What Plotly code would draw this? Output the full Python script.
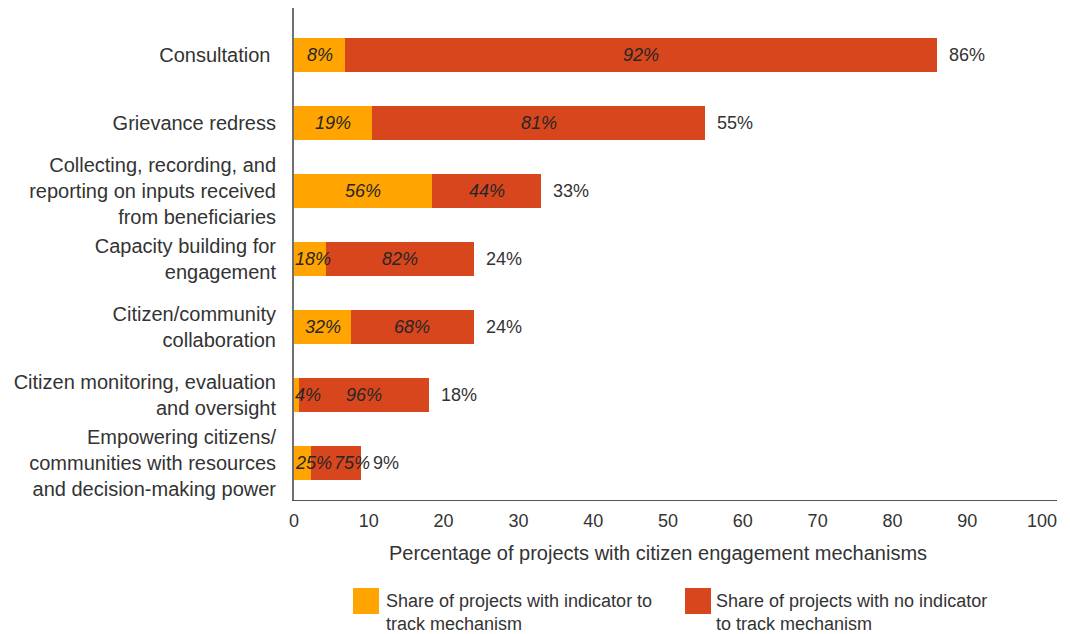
import plotly.graph_objects as go

# Citizen engagement mechanisms: share of projects and indicator coverage
categories = [
    "Consultation ",
    "Grievance redress",
    "Collecting, recording, and<br>reporting on inputs received<br>from beneficiaries",
    "Capacity building for<br>engagement",
    "Citizen/community<br>collaboration",
    "Citizen monitoring, evaluation<br>and oversight",
    "Empowering citizens/<br>communities with resources<br>and decision-making power",
]
totals = [86, 55, 33, 24, 24, 18, 9]              # % of projects with the mechanism
share_with_indicator = [8, 19, 56, 18, 32, 4, 25]  # % of those with a tracking indicator
share_no_indicator = [92, 81, 44, 82, 68, 96, 75]  # % of those without one
x_ticks = [0, 10, 20, 30, 40, 50, 60, 70, 80, 90, 100]

legend_labels = [
    "Share of projects with indicator to<br>track mechanism",
    "Share of projects with no indicator<br>to track mechanism",
]

ORANGE = "#FFA400"
RED = "#D8461D"
TEXT = "#333333"
LABEL = "#262626"
FONT = "Liberation Sans, Arial, sans-serif"
SEG_FONT = dict(family=FONT, size=18, color=LABEL, style="italic")

# Segment lengths: each total split by indicator share
seg_with = [t * s / 100 for t, s in zip(totals, share_with_indicator)]
seg_without = [t * s / 100 for t, s in zip(totals, share_no_indicator)]

fig = go.Figure()
fig.add_trace(go.Bar(
    y=categories, x=seg_with, orientation="h", marker=dict(color=ORANGE, line_width=0),
    name=legend_labels[0], hoverinfo="skip",
))
fig.add_trace(go.Bar(
    y=categories, x=seg_without, orientation="h", marker=dict(color=RED, line_width=0),
    name=legend_labels[1], hoverinfo="skip",
))

# Segment labels: centred in the segment, or pushed aside when the segment is narrow
for cat, s_w, s_n, p_w, p_n in zip(categories, seg_with, seg_without,
                                   share_with_indicator, share_no_indicator):
    narrow_w = s_w < 5
    fig.add_annotation(
        x=0 if narrow_w else s_w / 2, y=cat, xref="x", yref="y", text=f"{p_w}%",
        showarrow=False, xanchor="left" if narrow_w else "center", yanchor="middle",
        xshift=-1 if narrow_w else 0, font=SEG_FONT,
    )
    narrow_n = s_n < 8
    fig.add_annotation(
        x=s_w if narrow_n else s_w + s_n / 2, y=cat, xref="x", yref="y", text=f"{p_n}%",
        showarrow=False, xanchor="left" if narrow_n else "center", yanchor="middle",
        xshift=21 if narrow_n else 0, font=SEG_FONT,
    )

# Total labels at the end of each bar
for cat, tot in zip(categories, totals):
    fig.add_annotation(
        x=tot, y=cat, xref="x", yref="y", text=f"{tot}%",
        showarrow=False, xanchor="left", yanchor="middle", xshift=10,
        font=dict(family=FONT, size=18, color=TEXT),
    )

W, H = 1070, 634
L, R, T, B = 294, 13, 8, 134
PW, PH = W - L - R, H - T - B


def px(x):
    return (x - L) / PW


def py(y):
    return (H - B - y) / PH


# Axis title, placed under the tick labels
fig.add_annotation(
    x=px(658), y=py(553), xref="paper", yref="paper",
    text="Percentage of projects with citizen engagement mechanisms",
    showarrow=False, xanchor="center", yanchor="middle",
    font=dict(family=FONT, size=20, color=TEXT),
)

# Custom legend with large square swatches
for (sx, tx), color, label in zip([(353, 384), (685, 714)], [ORANGE, RED], legend_labels):
    fig.add_shape(
        type="rect", xref="paper", yref="paper",
        x0=px(sx), x1=px(sx + 26), y0=py(614), y1=py(588),
        fillcolor=color, line_width=0,
    )
    fig.add_annotation(
        x=px(tx), y=py(612), xref="paper", yref="paper", text=label,
        showarrow=False, xanchor="left", yanchor="middle", align="left",
        font=dict(family=FONT, size=18, color=TEXT),
    )

fig.update_layout(
    width=W, height=H,
    margin=dict(l=L, r=R, t=T, b=B, pad=0),
    barmode="stack", bargap=0.5,
    showlegend=False,
    plot_bgcolor="white", paper_bgcolor="white",
    font=dict(family=FONT, size=18, color=TEXT),
)
fig.update_xaxes(
    range=[0, 102], tickvals=x_ticks, showgrid=False, zeroline=False,
    showline=True, linecolor="#555555", linewidth=1, ticks="",
    ticklabelstandoff=4,
    tickfont=dict(family=FONT, size=18, color=TEXT),
)
fig.update_yaxes(
    type="category", range=[6.549, -0.687], showgrid=False, zeroline=False,
    showline=True, linecolor="#707070", linewidth=2, ticks="",
    ticklabelstandoff=12,
    tickfont=dict(family=FONT, size=20, color=TEXT),
)

fig.write_html("out.html")
